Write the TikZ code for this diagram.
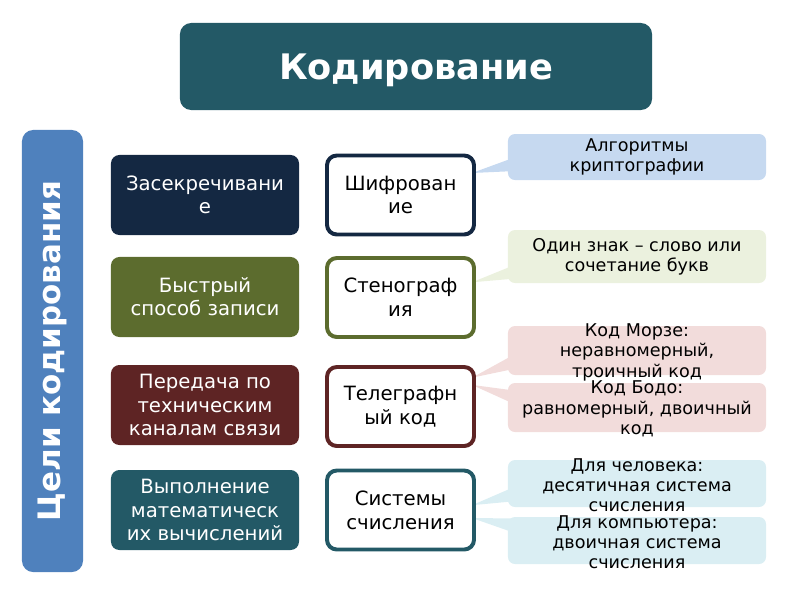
\documentclass[tikz,border=0pt]{standalone}
\usepackage{fontspec}
\setmainfont{DejaVu Sans}
\usetikzlibrary{backgrounds}

\definecolor{codeteal}{RGB}{35,89,102}
\definecolor{barblue}{RGB}{79,129,189}
\definecolor{goalnavy}{RGB}{20,40,66}
\definecolor{goalolive}{RGB}{92,108,46}
\definecolor{goalred}{RGB}{94,36,36}
\definecolor{noteblue}{RGB}{198,217,240}
\definecolor{noteolive}{RGB}{235,241,222}
\definecolor{notered}{RGB}{242,220,219}
\definecolor{notecyan}{RGB}{218,238,243}

\begin{document}
\begin{tikzpicture}[x=0.025cm,y=-0.025cm,
		goal/.style={rectangle,rounded corners=6pt,fill=#1,minimum width=4.7cm,minimum height=2cm,text=white,align=center,font=\fontsize{14}{16.5}\selectfont,inner sep=2pt},
		way/.style={rectangle,rounded corners=7pt,draw=#1,line width=2.8pt,fill=white,minimum width=3.675cm,minimum height=1.975cm,align=center,font=\fontsize{14}{17}\selectfont,inner sep=2pt},
		note/.style={rectangle,rounded corners=5pt,fill=#1,minimum width=6.45cm,inner sep=0pt},
		notetext/.style={align=center,font=\fontsize{12.5}{14.5}\selectfont,inner sep=0pt}]
		\useasboundingbox (0,0) rectangle (800,600);
		% header and side bar
		\node [fill=codeteal,rounded corners=8pt,minimum width=11.8cm,minimum height=2.175cm,text=white,text depth=0pt,font=\bfseries\fontsize{25}{29}\selectfont] (title) at (416,66.5) {Кодирование};
		\node [fill=barblue,rounded corners=8pt,rotate=90,minimum width=11.05cm,minimum height=1.525cm,text=white,font=\bfseries\fontsize{22}{26}\selectfont] (goals) at (52.5,351) {Цели кодирования};
		% goals
		\node [goal=goalnavy] (g1) at (205,195) {Засекречивани\\е};
		\node [goal=goalolive] (g2) at (205,297) {Быстрый\\способ записи};
		\node [goal=goalred] (g3) at (205,405) {Передача по\\техническим\\каналам связи};
		\node [goal=codeteal] (g4) at (205,510) {Выполнение\\математическ\\их вычислений};
		% ways
		\node [way=goalnavy] (m1) at (400.5,195) {Шифрован\\ие};
		\node [way=goalolive] (m2) at (400.5,297.5) {Стенограф\\ия};
		\node [way=goalred] (m3) at (400.5,406.5) {Телеграфн\\ый код};
		\node [way=codeteal] (m4) at (400.5,510) {Системы\\счисления};
		% notes
		\node [note=noteblue,minimum height=1.15cm] (r1) at (637,157) {};
		\node [note=noteolive,minimum height=1.325cm] (r2) at (637,256.5) {};
		\node [note=notered,minimum height=1.225cm] (r3) at (637,350.5) {};
		\node [note=notered,minimum height=1.225cm] (r4) at (637,407.5) {};
		\node [note=notecyan,minimum height=1.175cm] (r5) at (637,483.5) {};
		\node [note=notecyan,minimum height=1.175cm] (r6) at (637,540.5) {};
		\node [notetext] (r1t) at (r1.center) {Алгоритмы\\криптографии};
		\node [notetext] (r2t) at (r2.center) {Один знак – слово или\\сочетание букв};
		\node [notetext] (r3t) at ([yshift=-0.04cm]r3.center) {Код Морзе:\\неравномерный,\\троичный код};
		\node [notetext] (r4t) at ([yshift=-0.04cm]r4.center) {Код Бодо:\\равномерный, двоичный\\код};
		\node [notetext] (r5t) at ([yshift=-0.04cm]r5.center) {Для человека:\\десятичная система\\счисления};
		\node [notetext] (r6t) at ([yshift=-0.04cm]r6.center) {Для компьютера:\\двоичная система\\счисления};
		% callout wedges
		\begin{scope}[on background layer]
			\fill [noteblue] ([xshift=-0.1cm,yshift=0.55cm]m1.east) -- ([xshift=0.2cm,yshift=0cm]r1.west) -- ([xshift=0.2cm,yshift=-0.35cm]r1.west) -- cycle;
			\fill [noteolive] ([xshift=-0.1cm,yshift=0.38cm]m2.east) -- ([xshift=0.2cm,yshift=-0.2cm]r2.west) -- ([xshift=0.2cm,yshift=-0.55cm]r2.west) -- cycle;
			\fill [notered] ([xshift=-0.1cm,yshift=0.72cm]m3.east) -- ([xshift=0.2cm,yshift=-0.08cm]r3.west) -- ([xshift=0.2cm,yshift=-0.45cm]r3.west) -- cycle;
			\fill [notered] ([xshift=-0.1cm,yshift=0.54cm]m3.east) -- ([xshift=0.2cm,yshift=0.42cm]r4.west) -- ([xshift=0.2cm,yshift=0.07cm]r4.west) -- cycle;
			\fill [notecyan] ([xshift=-0.1cm,yshift=0.12cm]m4.east) -- ([xshift=0.2cm,yshift=-0.07cm]r5.west) -- ([xshift=0.2cm,yshift=-0.44cm]r5.west) -- cycle;
			\fill [notecyan] ([xshift=-0.1cm,yshift=-0.2cm]m4.east) -- ([xshift=0.2cm,yshift=0.55cm]r6.west) -- ([xshift=0.2cm,yshift=0.18cm]r6.west) -- cycle;
		\end{scope}
	\end{tikzpicture}
\end{document}
